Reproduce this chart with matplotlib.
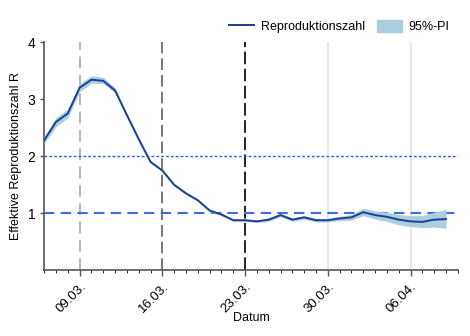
import matplotlib
matplotlib.use("Agg")

import matplotlib.pyplot as plt
import matplotlib.dates as mdates
from matplotlib.lines import Line2D
from matplotlib.patches import Patch
import pandas as pd

plt.rcParams["font.family"] = ["Liberation Sans", "DejaVu Sans"]

dates = pd.date_range("2020-03-06", "2020-04-09", freq="D")
r_values = [2.28, 2.60, 2.75, 3.20, 3.34, 3.32, 3.15, 2.72, 2.30, 1.90,
            1.75, 1.50, 1.35, 1.23, 1.05, 0.98, 0.88, 0.88, 0.86, 0.89,
            0.97, 0.89, 0.93, 0.88, 0.88, 0.91, 0.93, 1.02, 0.97, 0.94,
            0.89, 0.86, 0.85, 0.89, 0.90]
r_lower = [2.22, 2.52, 2.67, 3.13, 3.28, 3.27, 3.11, 2.69, 2.28, 1.88,
           1.73, 1.48, 1.33, 1.21, 1.03, 0.96, 0.86, 0.86, 0.84, 0.86,
           0.94, 0.86, 0.90, 0.85, 0.85, 0.87, 0.88, 0.96, 0.90, 0.86,
           0.80, 0.77, 0.75, 0.76, 0.74]
r_upper = [2.34, 2.68, 2.83, 3.27, 3.41, 3.38, 3.20, 2.75, 2.33, 1.93,
           1.77, 1.52, 1.37, 1.25, 1.07, 1.00, 0.90, 0.90, 0.88, 0.92,
           1.00, 0.92, 0.96, 0.91, 0.91, 0.95, 0.98, 1.09, 1.04, 1.02,
           0.98, 0.96, 0.96, 1.02, 1.07]
tick_dates = pd.to_datetime(["2020-03-09", "2020-03-16", "2020-03-23",
                             "2020-03-30", "2020-04-06"])

fig = plt.figure(figsize=(4.7, 3.36), dpi=100)
ax = fig.add_axes([0.094, 0.195, 0.88, 0.68])

line_col = "#1c3f94"
band_col = "#a9cfdf"

# reference markers
ax.axvline(tick_dates[3], color="#e3e3e3", lw=1.2, zorder=1)
ax.axvline(tick_dates[4], color="#e3e3e3", lw=1.2, zorder=1)
ax.axvline(tick_dates[0], color="#a8a8a8", lw=1.2, dashes=(7, 4), zorder=1)
ax.axvline(tick_dates[1], color="#606060", lw=1.2, dashes=(7, 3), zorder=1)
ax.axvline(tick_dates[2], color="#111111", lw=1.3, dashes=(7, 2.5), zorder=1)
ax.axhline(2, color="#2f5ff2", lw=1.0, dashes=(2, 1.5), zorder=2)
ax.axhline(1, color="#3b6ce8", lw=1.5, dashes=(5, 3), zorder=2)

ax.fill_between(dates, r_lower, r_upper, color=band_col, lw=0, zorder=3)
ax.plot(dates, r_values, color=line_col, lw=1.4, zorder=4)

ax.set_ylim(0, 4)
ax.set_yticks([1, 2, 3, 4])
ax.set_xlim(pd.Timestamp("2020-03-06"), pd.Timestamp("2020-04-10"))
ax.set_xticks(tick_dates)
ax.xaxis.set_major_formatter(mdates.DateFormatter("%d.%m."))
ax.xaxis.set_minor_locator(mdates.DayLocator())
for lab in ax.get_xticklabels():
    lab.set_rotation(45)
    lab.set_ha("right")
    lab.set_rotation_mode("anchor")
ax.tick_params(axis="both", labelsize=9.5, color="#555555", width=1.0)
ax.tick_params(axis="x", which="major", length=4, pad=3)
ax.tick_params(axis="x", which="minor", length=2.5)
ax.tick_params(axis="y", length=3, labelsize=10)

for side in ["top", "right"]:
    ax.spines[side].set_visible(False)
for side in ["left", "bottom"]:
    ax.spines[side].set_color("#555555")
    ax.spines[side].set_linewidth(1.2)

ax.set_xlabel("Datum", fontsize=9, labelpad=-2)
ax.set_ylabel("Effektive Reproduktionszahl R", fontsize=9)

handles = [Line2D([0], [0], color=line_col, lw=1.4), Patch(color=band_col)]
fig.legend(handles, ["Reproduktionszahl", "95%-PI"], loc="center",
           bbox_to_anchor=(0.722, 0.92), ncol=2, frameon=False, fontsize=9,
           handlelength=2.0, handleheight=1.0, handletextpad=0.55,
           columnspacing=0.9)

plt.savefig("out.png", dpi=100)
